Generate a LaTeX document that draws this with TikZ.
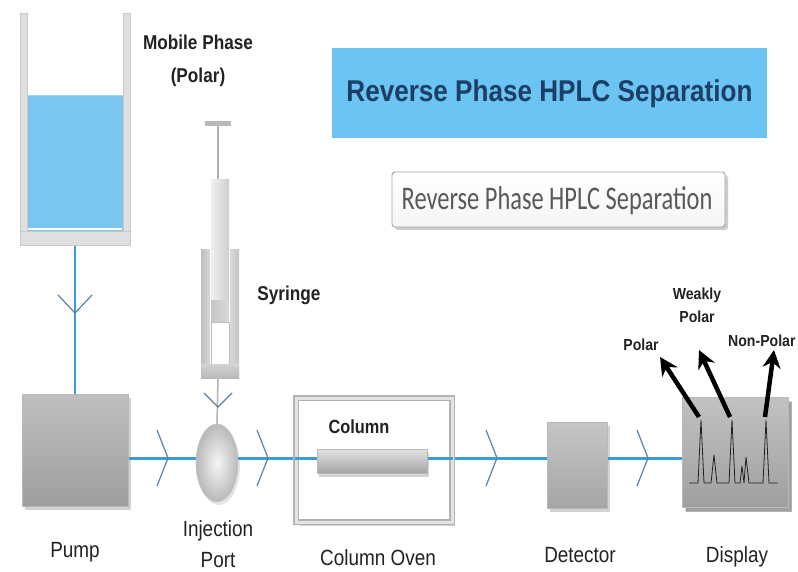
\documentclass[tikz,border=0pt]{standalone}
\usepackage{fontspec}
\setmainfont{Liberation Sans}
\newfontfamily\narrowsans[FakeStretch=0.86]{Liberation Sans}
\newfontfamily\titlesans[FakeStretch=0.87]{Liberation Sans}
\newfontfamily\peaksans[FakeStretch=0.88]{Liberation Sans}
\newfontfamily\boxsans[FakeStretch=0.74]{Carlito}
\usetikzlibrary{shapes.geometric,shadows,arrows.meta}
\pgfdeclarelayer{background}
\pgfsetlayers{background,main}
\newcommand\pxsize[1]{\fontsize{#1}{#1}\selectfont}

\definecolor{liquid}{HTML}{7AC6EF}
\definecolor{flowblue}{HTML}{3D9BD6}
\definecolor{chevcol}{HTML}{5E82A3}
\definecolor{titlefill}{HTML}{6CC4F2}
\definecolor{titleink}{HTML}{1B3F66}
\definecolor{labelink}{HTML}{222222}

\tikzset{
  flow/.style={draw=flowblue, line width=3pt},
  chevline/.style={draw=chevcol, line width=1.2pt},
  wall/.style={fill=gray!25, draw=gray!42, line width=0.6pt},
  unitbox/.style={rectangle, draw=gray!55, line width=0.5pt,
    drop shadow={opacity=0.35, shadow xshift=3pt, shadow yshift=-4pt}},
  label/.style={text=labelink, inner sep=0pt, font=\narrowsans\pxsize{22}},
  boldlabel/.style={text=labelink, inner sep=0pt, font=\narrowsans\bfseries\pxsize{20}},
  peaklabel/.style={text=labelink, inner sep=0pt, font=\peaksans\bfseries\pxsize{16}},
  peakarrow/.style={draw=black, line width=4.5pt, -{Stealth[length=18pt,width=18pt]}},
  pics/chevright/.style={code={\draw[chevline] (-11,-28) -- (0,0) -- (-11,28);}},
  pics/chevdown/.style={code={\draw[chevline] (-17,-18) -- (0,0) -- (17,-18);}},
  pics/chevdownsmall/.style={code={\draw[chevline] (-14,-14) -- (0,0) -- (14,-14);}},
}

\begin{document}
\begin{tikzpicture}[x=1pt, y=-1pt]
\useasboundingbox (0,0) rectangle (798,572);
\clip (0,0) rectangle (798,572);

% ---------- reservoir with mobile phase ----------
\node[rectangle, fill=liquid, draw=liquid!70!white, line width=0.8pt,
      minimum width=96pt, minimum height=136pt, inner sep=0pt] (tank) at (75,163) {};
\fill[wall] (20,13) rectangle (27,245);
\fill[wall] (123,13) rectangle (130,245);
\fill[wall] (20,231) rectangle (130,245);
\draw[white, line width=1.5pt] (28,229) -- (122,229);
\coordinate (tankout) at (75,245);

\node[boldlabel, align=center, font=\narrowsans\bfseries\fontsize{20}{33}\selectfont]
  (mobile) at (198,61) {Mobile Phase\\(Polar)};

% ---------- title boxes ----------
\node[rectangle, fill=titlefill, minimum width=435pt, minimum height=90pt, inner sep=0pt]
  (titlebox) at (549.5,93) {};
\node[text=titleink, inner sep=0pt, anchor=base, font=\titlesans\bfseries\pxsize{30}]
  (title) at (549.5,102) {Reverse Phase HPLC Separation};

\node[rectangle, rounded corners=3pt, draw=gray!70, line width=0.9pt,
      top color=white, bottom color=gray!8,
      drop shadow={opacity=0.4, shadow xshift=3pt, shadow yshift=-3pt},
      minimum width=333pt, minimum height=55pt, inner sep=0pt]
  (subbox) at (558.5,199.5) {};
\node[text=gray!70!black, inner sep=0pt, anchor=base, font=\boxsans\pxsize{33}]
  (subtitle) at (557,210) {Reverse Phase HPLC Separation};

% ---------- syringe ----------
\fill[gray!55] (205,121) rectangle (231,126);
\draw[gray!60, line width=1.2pt] (218,126) -- (218,180);
\fill[left color=gray!12, right color=gray!38] (211,180) rectangle (229,300);
\fill[left color=gray!45, right color=gray!30] (211,300) rectangle (229,322);
\draw[gray!50, line width=0.6pt, fill=white] (211,322) rectangle (229,364);
\fill[left color=gray!50, right color=gray!30] (201,250) rectangle (210,378);
\fill[left color=gray!30, right color=gray!45] (230,250) rectangle (239,378);
\fill[top color=gray!35, bottom color=gray!55] (201,364) rectangle (239,378);
\coordinate (needle) at (218,378);
\node[boldlabel, anchor=base] (syrlabel) at (289,300) {Syringe};

% ---------- pump ----------
\node[unitbox, top color=gray!50, bottom color=gray!76,
      minimum width=106pt, minimum height=112pt] (pump) at (75,450) {};
\node[label, anchor=base] (pumplabel) at (75,557) {Pump};

% ---------- injection port ----------
\node[ellipse, minimum width=42pt, minimum height=78pt, inner sep=0pt,
      inner color=gray!8, outer color=gray!55, draw=gray!45, line width=0.4pt,
      drop shadow={opacity=0.2, shadow xshift=2pt, shadow yshift=-3pt}]
  (inj) at (217,463) {};
\node[label, align=center, font=\narrowsans\fontsize{22}{31}\selectfont]
  (injlabel) at (218,544) {Injection\\Port};

% ---------- column oven with column ----------
\coordinate (flowy) at (0,458);
\node[rectangle, fill=white, draw=gray!60, double=gray!22, double distance=3pt, line width=1.2pt,
      drop shadow={opacity=0.35, shadow xshift=3pt, shadow yshift=-4pt},
      minimum width=156pt, minimum height=124pt, inner sep=0pt]
  (oven) at (374,460) {};
\draw[flow] (oven.west |- flowy) -- (oven.east |- flowy);
\node[rectangle, top color=gray!22, bottom color=gray!72, draw=gray!55, line width=0.4pt,
      drop shadow={opacity=0.35, shadow xshift=2pt, shadow yshift=-4pt},
      minimum width=110pt, minimum height=24pt, inner sep=0pt]
  (column) at (372,461) {};
\node[boldlabel, anchor=base, font=\narrowsans\bfseries\pxsize{19}] (collabel) at (359,433) {Column};
\node[label, anchor=base] (ovenlabel) at (378,565) {Column Oven};

% ---------- detector ----------
\node[unitbox, top color=gray!45, bottom color=gray!70,
      minimum width=60pt, minimum height=86pt] (det) at (577,465) {};
\node[label, anchor=base] (detlabel) at (580,562) {Detector};

% ---------- display with chromatogram ----------
\node[unitbox, top color=gray!48, bottom color=gray!75,
      drop shadow={opacity=0.6, shadow xshift=4pt, shadow yshift=-5pt},
      minimum width=106pt, minimum height=110pt] (display) at (735,452) {};
\node[label, anchor=base] (displabel) at (737,562) {Display};

\draw[gray!25!black, line width=0.8pt, line join=round]
  (689,483) -- (698,483) -- (701,420) -- (704,483) -- (711,483) -- (714,455) -- (717,483)
  -- (729,483) -- (732,420) -- (735,483) -- (740,483) -- (742,466) -- (744,483)
  -- (746,457) -- (749,483) -- (763,483) -- (766,420) -- (769,483) -- (778,483);

\coordinate (peak1) at (699,417);
\coordinate (peak2) at (730,417);
\coordinate (peak3) at (765,417);
\coordinate (tip1) at (660,357);
\coordinate (tip2) at (699,350);
\coordinate (tip3) at (774,350);
\draw[peakarrow] (peak1) -- (tip1);
\draw[peakarrow] (peak2) -- (tip2);
\draw[peakarrow] (peak3) -- (tip3);

\node[peaklabel, anchor=base] (polar) at (641,350) {Polar};
\node[peaklabel, align=center, font=\peaksans\bfseries\fontsize{16}{23}\selectfont]
  (weak) at (697,305) {Weakly\\Polar};
\node[peaklabel, anchor=base west] (nonpolar) at (728,346) {Non-Polar};

% ---------- flow lines ----------
\begin{pgfonlayer}{background}
  \fill[white] (0,0) rectangle (798,572);
  \draw[flow, line width=2pt] (tankout) -- (pump.north);
  \draw[flow, line width=1.5pt, draw=gray!60] (needle) -- (inj.north);
  \draw[flow] (pump.east |- flowy) -- (inj.center |- flowy) -- (oven.center |- flowy)
    -- (det.center |- flowy) -- (display.west |- flowy);
\end{pgfonlayer}

% ---------- flow direction marks ----------
\pic at (75,313) {chevdown};
\pic at (218,407) {chevdownsmall};
\pic at (168,458) {chevright};
\pic at (268,458) {chevright};
\pic at (497,458) {chevright};
\pic at (648,458) {chevright};
\end{tikzpicture}
\end{document}
